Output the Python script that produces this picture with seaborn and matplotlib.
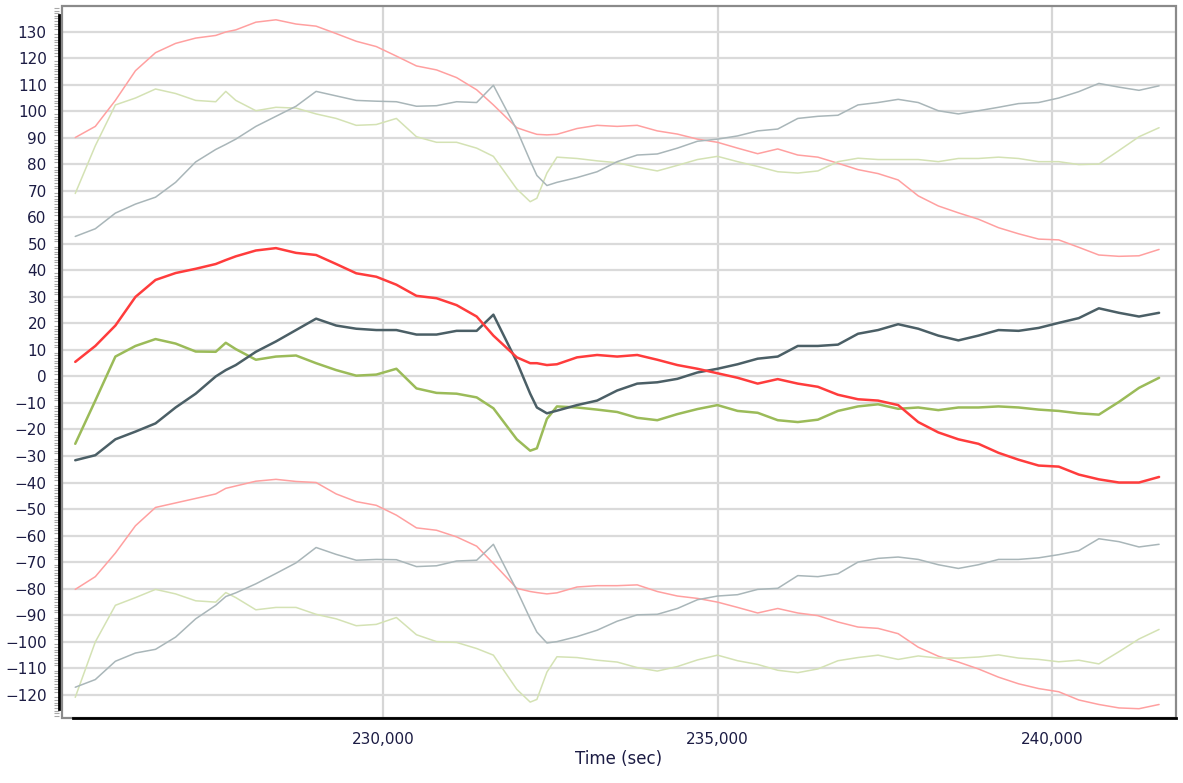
import numpy as np
import pandas as pd
import matplotlib
matplotlib.use("Agg")
import matplotlib.pyplot as plt
from matplotlib.ticker import MultipleLocator, FixedLocator, FuncFormatter
from matplotlib.patches import Rectangle
import seaborn as sns

# Sample times (seconds)
time_sec = [225400, 225700, 226000, 226300, 226600, 226900, 227200, 227500, 227650, 227800,
            228100, 228400, 228700, 229000, 229300, 229600, 229900, 230200, 230500, 230800,
            231100, 231400, 231650, 232000, 232200, 232300, 232450, 232600, 232900, 233200,
            233500, 233800, 234100, 234400, 234700, 235000, 235300, 235600, 235900, 236200,
            236500, 236800, 237100, 237400, 237700, 238000, 238300, 238600, 238900, 239200,
            239500, 239800, 240100, 240400, 240700, 241000, 241300, 241600]

# Red channel: centre trace and its upper / lower envelopes
red_mid = [5.5, 11.5, 19.2, 30.0, 36.4, 39.0, 40.6, 42.4, 43.9, 45.3,
           47.5, 48.4, 46.6, 45.8, 42.4, 38.9, 37.6, 34.6, 30.4, 29.5,
           26.9, 22.6, 15.4, 7.2, 5.0, 5.0, 4.3, 4.6, 7.2, 8.1,
           7.5, 8.1, 6.3, 4.3, 2.9, 1.2, -0.5, -2.7, -1.0, -2.7,
           -3.9, -6.9, -8.6, -9.1, -10.8, -17.2, -21.1, -23.7, -25.4, -28.8,
           -31.4, -33.6, -34.0, -37.0, -38.8, -40.0, -40.0, -37.9]
red_upper = [90.1, 94.3, 104.1, 115.3, 122.1, 125.6, 127.6, 128.6, 129.9, 130.7,
             133.6, 134.5, 132.9, 132.1, 129.3, 126.4, 124.4, 120.8, 117.1, 115.6,
             112.7, 108.1, 102.4, 93.8, 92.1, 91.3, 91.1, 91.3, 93.5, 94.7,
             94.3, 94.7, 92.6, 91.4, 89.5, 88.3, 86.1, 84.0, 85.8, 83.5,
             82.7, 80.4, 78.0, 76.5, 74.1, 68.1, 64.3, 61.7, 59.3, 56.1,
             53.8, 51.8, 51.5, 48.7, 45.8, 45.3, 45.5, 47.9]
red_lower = [-80.3, -75.5, -66.6, -56.3, -49.4, -47.7, -46.0, -44.3, -42.2, -41.3,
             -39.5, -38.8, -39.6, -40.0, -44.3, -47.2, -48.6, -52.3, -57.1, -58.0,
             -60.5, -64.0, -70.5, -79.9, -81.1, -81.5, -82.0, -81.6, -79.4, -78.9,
             -78.9, -78.6, -81.1, -82.8, -83.7, -85.1, -87.1, -89.2, -87.5, -89.2,
             -90.2, -92.6, -94.5, -95.0, -97.0, -102.1, -105.5, -107.7, -110.3, -113.4,
             -115.9, -117.7, -118.9, -122.0, -123.7, -125.0, -125.3, -123.7]

# Slate channel
slate_mid = [-31.6, -29.7, -23.7, -20.8, -17.7, -11.7, -6.5, 0.0, 2.4, 4.3,
             9.3, 13.2, 17.5, 21.8, 19.2, 18.0, 17.5, 17.5, 15.8, 15.8,
             17.2, 17.2, 23.3, 5.5, -6.5, -11.7, -13.9, -12.9, -10.8, -9.1,
             -5.3, -2.7, -2.2, -0.9, 1.5, 2.9, 4.6, 6.7, 7.5, 11.5,
             11.5, 12.0, 16.1, 17.5, 19.7, 18.0, 15.4, 13.6, 15.4, 17.5,
             17.2, 18.3, 20.2, 22.0, 25.7, 24.0, 22.6, 24.0]
slate_upper = [52.8, 55.7, 61.6, 65.0, 67.6, 73.2, 80.9, 85.6, 87.5, 89.5,
               94.3, 98.1, 101.9, 107.5, 105.8, 104.1, 103.8, 103.6, 101.9, 102.1,
               103.6, 103.3, 109.8, 93.0, 81.3, 75.8, 72.0, 73.2, 75.0, 77.2,
               81.0, 83.5, 83.9, 86.1, 88.7, 89.5, 90.7, 92.6, 93.3, 97.3,
               98.1, 98.5, 102.4, 103.3, 104.5, 103.3, 100.2, 99.0, 100.2, 101.5,
               102.9, 103.3, 105.0, 107.4, 110.5, 109.1, 107.9, 109.6]
slate_lower = [-117.2, -114.3, -107.4, -104.3, -102.9, -98.3, -91.4, -86.3, -83.0, -81.6,
               -78.2, -74.3, -70.3, -64.5, -67.1, -69.3, -69.0, -69.1, -71.7, -71.4,
               -69.6, -69.3, -63.3, -80.6, -91.4, -96.4, -100.5, -100.0, -98.1, -95.7,
               -92.3, -89.9, -89.7, -87.5, -84.2, -82.8, -82.3, -80.3, -79.9, -75.1,
               -75.5, -74.4, -70.0, -68.6, -68.1, -69.0, -71.0, -72.4, -71.0, -69.0,
               -69.0, -68.4, -67.2, -65.7, -61.2, -62.3, -64.3, -63.3]

# Green channel
green_mid = [-25.4, -9.1, 7.5, 11.5, 14.1, 12.4, 9.4, 9.3, 12.7, 10.3,
             6.3, 7.5, 7.9, 5.0, 2.4, 0.3, 0.7, 2.9, -4.5, -6.2,
             -6.5, -7.9, -12.0, -23.7, -28.0, -27.1, -16.0, -11.3, -11.7, -12.5,
             -13.4, -15.6, -16.5, -14.2, -12.3, -10.8, -13.0, -13.7, -16.5, -17.2,
             -16.3, -13.0, -11.3, -10.5, -12.2, -11.7, -12.7, -11.7, -11.7, -11.3,
             -11.7, -12.5, -13.0, -13.9, -14.4, -9.6, -4.3, -0.5]
green_upper = [69.0, 87.0, 102.4, 105.0, 108.4, 106.7, 104.1, 103.6, 107.5, 104.1,
               100.2, 101.5, 101.2, 99.0, 97.3, 94.7, 95.0, 97.3, 90.4, 88.3,
               88.3, 86.1, 83.0, 70.7, 65.9, 67.2, 76.7, 82.7, 82.2, 81.3,
               80.6, 78.9, 77.5, 79.6, 81.8, 83.0, 81.0, 79.2, 77.2, 76.7,
               77.5, 81.0, 82.3, 81.8, 81.8, 81.8, 81.0, 82.2, 82.2, 82.7,
               82.2, 81.0, 81.0, 79.9, 80.1, 85.2, 90.4, 93.8]
green_lower = [-121.0, -100.1, -86.3, -83.4, -80.3, -82.0, -84.6, -85.1, -81.5, -83.4,
               -88.0, -87.1, -87.1, -89.7, -91.4, -94.0, -93.5, -90.9, -97.4, -100.0,
               -100.3, -102.6, -105.1, -118.0, -122.8, -121.8, -111.5, -105.7, -106.0, -107.0,
               -107.7, -109.8, -111.1, -109.4, -106.9, -105.1, -107.2, -108.6, -110.8, -111.7,
               -110.3, -107.2, -106.0, -105.1, -106.7, -105.4, -106.2, -106.2, -105.8, -105.0,
               -106.2, -106.7, -107.6, -107.0, -108.4, -103.8, -99.0, -95.4]

# Axis ticks
y_ticks = list(range(-120, 131, 10))
x_ticks = [230000, 235000, 240000]

sns.set_theme(style="white")
plt.rcParams['font.family'] = ['DejaVu Sans']

W, H = 1183, 783
fig = plt.figure(figsize=(W / 100, H / 100), dpi=100)
ax = fig.add_axes([62 / W, 1 - 718 / H, (1176 - 62) / W, (718 - 6) / H])

# Envelopes first (pale), centre traces on top
layers = [
    (red_upper, "#ffa0a0", 1.1, 2),
    (green_upper, "#d4e2b4", 1.1, 2),
    (slate_upper, "#a9b6b9", 1.1, 2),
    (red_lower, "#ffa0a0", 1.1, 2),
    (green_lower, "#d4e2b4", 1.1, 2),
    (slate_lower, "#a9b6b9", 1.1, 2),
    (green_mid, "#9bbb59", 1.8, 3),
    (slate_mid, "#4b5f66", 1.8, 3),
    (red_mid, "#ff3c3c", 1.8, 3),
]
for vals, color, lw, z in layers:
    df = pd.DataFrame({"t": time_sec, "v": vals})
    sns.lineplot(data=df, x="t", y="v", ax=ax, color=color, linewidth=lw,
                 zorder=z, legend=False, estimator=None)

ax.set_xlim(225202, 241853)
ax.set_ylim(-128.8, 139.7)

# Grid
ax.yaxis.set_major_locator(FixedLocator(y_ticks))
ax.yaxis.set_minor_locator(MultipleLocator(1))
ax.xaxis.set_major_locator(FixedLocator(x_ticks))
ax.xaxis.set_minor_locator(MultipleLocator(1000))
ax.xaxis.set_major_formatter(FuncFormatter(lambda v, p: f"{v:,.0f}"))
ax.grid(axis="y", which="major", color="#dadada", linewidth=1.6)
ax.grid(axis="x", which="major", color="#d6d6d6", linewidth=1.6)
ax.set_axisbelow(True)

# Frame and axis lines
for s in ["top", "right"]:
    ax.spines[s].set_visible(False)
frame = Rectangle((0, 0), 1, 1, transform=ax.transAxes, fill=False,
                  edgecolor="#8a8a8a", linewidth=1.6, zorder=4, clip_on=False)
ax.add_patch(frame)
ax.spines["left"].set_color("black")
ax.spines["left"].set_linewidth(2.0)
ax.spines["left"].set_bounds(-125.5, 136.3)
ax.spines["left"].set_position(("outward", 2))
ax.spines["left"].set_zorder(5)
ax.spines["bottom"].set_color("black")
ax.spines["bottom"].set_linewidth(2.0)
ax.spines["bottom"].set_bounds(225366, 241853)
ax.spines["bottom"].set_zorder(5)

label_color = "#1c1c44"
ax.tick_params(axis="y", which="major", direction="out", length=6, width=1.0,
               color="#9a9a9a", labelsize=11, labelcolor=label_color, pad=3)
ax.tick_params(axis="y", which="minor", direction="out", length=3.5, width=0.8,
               color="#a8a8a8", left=True)
ax.tick_params(axis="x", which="both", direction="out", length=4, width=1.0,
               color="#a0a0a0", labelsize=11, labelcolor=label_color, pad=6)
ax.set_ylabel("")
ax.set_xlabel("Time (sec)", fontsize=12, color=label_color, labelpad=2)

fig.savefig("out.png", dpi=100)
